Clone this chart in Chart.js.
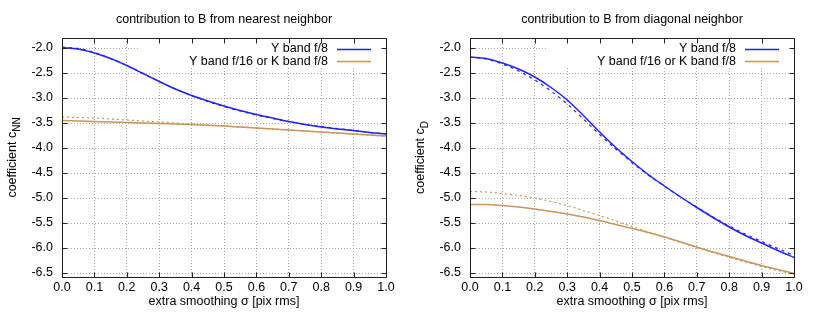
<!DOCTYPE html>
<html><head><meta charset="utf-8">
<script src="https://cdn.jsdelivr.net/npm/chart.js@4"></script>
<style>
html,body{margin:0;padding:0;background:#fff;}
#wrap{position:relative;width:817px;height:318px;overflow:hidden;}
.panel{position:absolute;top:0;height:318px;}
canvas{display:block;}
</style></head><body>
<div id="wrap">
<div class="panel" style="left:0;width:408px"><canvas id="c1" width="408" height="318"></canvas></div>
<div class="panel" style="left:408px;width:409px"><canvas id="c2" width="409" height="318"></canvas></div>
</div>
<script>
// ---------- data ----------
const sigma = [0,0.05,0.1,0.15,0.2,0.25,0.3,0.35,0.4,0.45,0.5,0.55,0.6,0.65,0.7,0.75,0.8,0.85,0.9,0.95,1.0];

const nnYf8      = [-1.99,-2.02,-2.10,-2.21,-2.35,-2.51,-2.67,-2.82,-2.95,-3.06,-3.16,-3.25,-3.33,-3.40,-3.47,-3.53,-3.58,-3.62,-3.65,-3.69,-3.72];
const nnYf8Dash  = [-1.98,-2.01,-2.09,-2.21,-2.35,-2.51,-2.67,-2.82,-2.95,-3.07,-3.17,-3.26,-3.34,-3.41,-3.47,-3.53,-3.57,-3.61,-3.65,-3.69,-3.72];
const nnYf16     = [-3.45,-3.46,-3.47,-3.48,-3.49,-3.50,-3.51,-3.52,-3.53,-3.545,-3.56,-3.58,-3.60,-3.62,-3.64,-3.66,-3.68,-3.70,-3.72,-3.74,-3.76];
const nnYf16Dash = [-3.38,-3.39,-3.40,-3.42,-3.44,-3.46,-3.48,-3.50,-3.52,-3.54,-3.56,-3.58,-3.60,-3.62,-3.64,-3.66,-3.68,-3.70,-3.72,-3.745,-3.77];

const dYf8      = [-2.18,-2.21,-2.30,-2.42,-2.58,-2.79,-3.04,-3.35,-3.68,-3.99,-4.27,-4.53,-4.76,-4.98,-5.19,-5.39,-5.58,-5.75,-5.90,-6.05,-6.19];
const dYf8Dash  = [-2.18,-2.22,-2.32,-2.46,-2.64,-2.86,-3.12,-3.42,-3.73,-4.02,-4.29,-4.54,-4.76,-4.98,-5.18,-5.38,-5.56,-5.72,-5.87,-6.01,-6.15];
const dYf16     = [-5.13,-5.13,-5.15,-5.18,-5.22,-5.27,-5.32,-5.38,-5.45,-5.53,-5.61,-5.69,-5.78,-5.88,-5.98,-6.08,-6.17,-6.26,-6.35,-6.43,-6.51];
const dYf16Dash = [-4.87,-4.88,-4.91,-4.95,-5.00,-5.07,-5.15,-5.25,-5.35,-5.46,-5.57,-5.68,-5.78,-5.89,-5.99,-6.09,-6.19,-6.28,-6.37,-6.45,-6.53];

const xTicks = [0,0.1,0.2,0.3,0.4,0.5,0.6,0.7,0.8,0.9,1.0];
const yTicks = [-6.5,-6.0,-5.5,-5.0,-4.5,-4.0,-3.5,-3.0,-2.5,-2.0];
const seriesNames = ['Y band f/8','Y band f/16 or K band f/8'];
const panelTitles = ['contribution to B from nearest neighbor','contribution to B from diagonal neighbor'];
const yTitleMain = 'coefficient c';
const yTitleSubs = ['NN','D'];
const xTitle = 'extra smoothing σ [pix rms]';

// ---------- style ----------
const FONT = '"Liberation Sans", Arial, Helvetica, sans-serif';
const FS = 12.5;
const BLUE = '#2121ff';
const BROWN = '#c8965a';

function pts(arr){ return sigma.map((s,i)=>({x:s,y:arr[i]})); }

function ds(label, arr, color, dashed, inLegend){
  return {
    label, data: pts(arr), borderColor: color, backgroundColor: color,
    borderWidth: dashed ? 1.2 : 1.5, borderDash: dashed ? (color===BLUE?[3,4]:[2,3]) : [],
    pointRadius: 0, fill: false, cubicInterpolationMode: 'monotone',
    inLegend
  };
}

const decor = {
  id: 'decor',
  beforeDatasetsDraw(chart, args, opts){
    const ctx = chart.ctx, ca = chart.chartArea;
    ctx.save();
    ctx.font = FS + 'px ' + FONT;
    const items = chart.data.datasets.filter(d=>d.inLegend);
    let maxW = 0;
    items.forEach(d=>{ maxW = Math.max(maxW, ctx.measureText(d.label).width); });
    const textRight = ca.right - 58;
    const boxL = textRight - maxW - 51;
    ctx.fillStyle = '#fff';
    ctx.fillRect(boxL, ca.top + 3, ca.right - 1 - boxL, 26);
    items.forEach((d,i)=>{
      const y = ca.top + 10.5 + i*12.7;
      ctx.fillStyle = '#000';
      ctx.textAlign = 'right';
      ctx.textBaseline = 'middle';
      ctx.fillText(d.label, textRight, y);
      ctx.strokeStyle = d.borderColor;
      ctx.lineWidth = d.borderWidth;
      ctx.setLineDash([]);
      ctx.beginPath();
      ctx.moveTo(ca.right - 49, Math.round(y)+0.5);
      ctx.lineTo(ca.right - 15, Math.round(y)+0.5);
      ctx.stroke();
    });
    ctx.restore();
  },
  afterDraw(chart, args, opts){
    const ctx = chart.ctx, ca = chart.chartArea;
    const xs = chart.scales.x, ys = chart.scales.y;
    ctx.save();
    const L = Math.round(ca.left)+0.5, R = Math.round(ca.right)+0.5, T = Math.round(ca.top)+0.5, B = Math.round(ca.bottom)+0.5;
    ctx.strokeStyle = '#222';
    ctx.lineWidth = 1;
    ctx.setLineDash([]);
    ctx.strokeRect(L, T, R-L, B-T);
    ctx.beginPath();
    xTicks.forEach(v=>{
      const px = Math.round(xs.getPixelForValue(v))+0.5;
      ctx.moveTo(px, B); ctx.lineTo(px, B-5);
      ctx.moveTo(px, T); ctx.lineTo(px, T+5);
    });
    yTicks.forEach(v=>{
      const py = Math.round(ys.getPixelForValue(v))+0.5;
      ctx.moveTo(L, py); ctx.lineTo(L+5, py);
      ctx.moveTo(R, py); ctx.lineTo(R-5, py);
    });
    ctx.stroke();
    // titles
    ctx.fillStyle = '#000';
    ctx.font = FS + 'px ' + FONT;
    ctx.textAlign = 'center';
    ctx.textBaseline = 'alphabetic';
    const cx = (ca.left + ca.right)/2;
    ctx.fillText(opts.title, cx, 22.5);
    ctx.fillText(xTitle, cx, 305);
    // rotated y title with subscript
    const cy = (ca.top + ca.bottom)/2;
    ctx.translate(16, cy);
    ctx.rotate(-Math.PI/2);
    ctx.textAlign = 'left';
    ctx.font = FS + 'px ' + FONT;
    const wMain = ctx.measureText(yTitleMain).width;
    ctx.font = (FS*0.8) + 'px ' + FONT;
    const wSub = ctx.measureText(opts.sub).width;
    const start = -(wMain + wSub)/2;
    ctx.font = FS + 'px ' + FONT;
    ctx.fillText(yTitleMain, start, 0);
    ctx.font = (FS*0.8) + 'px ' + FONT;
    ctx.fillText(opts.sub, start + wMain, 3.5);
    ctx.restore();
  }
};

function makeChart(id, datasets, title, sub){
  return new Chart(document.getElementById(id), {
    type: 'line',
    data: { datasets },
    options: {
      responsive: false,
      animation: false,
      events: [],
      layout: { padding: { left: 0, top: 38, right: (id==='c1'?22:23), bottom: 0 } },
      plugins: {
        legend: { display: false },
        tooltip: { enabled: false },
        title: { display: false },
        decor: { title, sub }
      },
      scales: {
        x: {
          type: 'linear', min: 0, max: 1,
          afterBuildTicks: (s)=>{ s.ticks = xTicks.map(v=>({value:v})); },
          afterFit: (s)=>{ s.height = 41; },
          ticks: { callback: (v)=>Number(v).toFixed(1), color: '#000', padding: 3, maxRotation: 0, autoSkip: false,
                   font: { family: FONT, size: FS } },
          grid: { color: '#a8a8a8', lineWidth: 1, drawTicks: false },
          border: { display: false, dash: [1,2] }
        },
        y: {
          type: 'linear', min: -6.58, max: -1.8,
          afterBuildTicks: (s)=>{ s.ticks = yTicks.map(v=>({value:v})); },
          afterFit: (s)=>{ s.width = 62; },
          ticks: { callback: (v)=>Number(v).toFixed(1), color: '#000', padding: 9, autoSkip: false,
                   font: { family: FONT, size: FS } },
          grid: { color: '#a8a8a8', lineWidth: 1, drawTicks: false },
          border: { display: false, dash: [1,2] }
        }
      }
    },
    plugins: [decor]
  });
}

makeChart('c1', [
  ds(seriesNames[0], nnYf8, BLUE, false, true),
  ds(seriesNames[1], nnYf16, BROWN, false, true),
  ds(seriesNames[0] + ' (dashed)', nnYf8Dash, BLUE, true, false),
  ds(seriesNames[1] + ' (dashed)', nnYf16Dash, BROWN, true, false)
], panelTitles[0], yTitleSubs[0]);

makeChart('c2', [
  ds(seriesNames[0], dYf8, BLUE, false, true),
  ds(seriesNames[1], dYf16, BROWN, false, true),
  ds(seriesNames[0] + ' (dashed)', dYf8Dash, BLUE, true, false),
  ds(seriesNames[1] + ' (dashed)', dYf16Dash, BROWN, true, false)
], panelTitles[1], yTitleSubs[1]);
</script>
</body></html>
